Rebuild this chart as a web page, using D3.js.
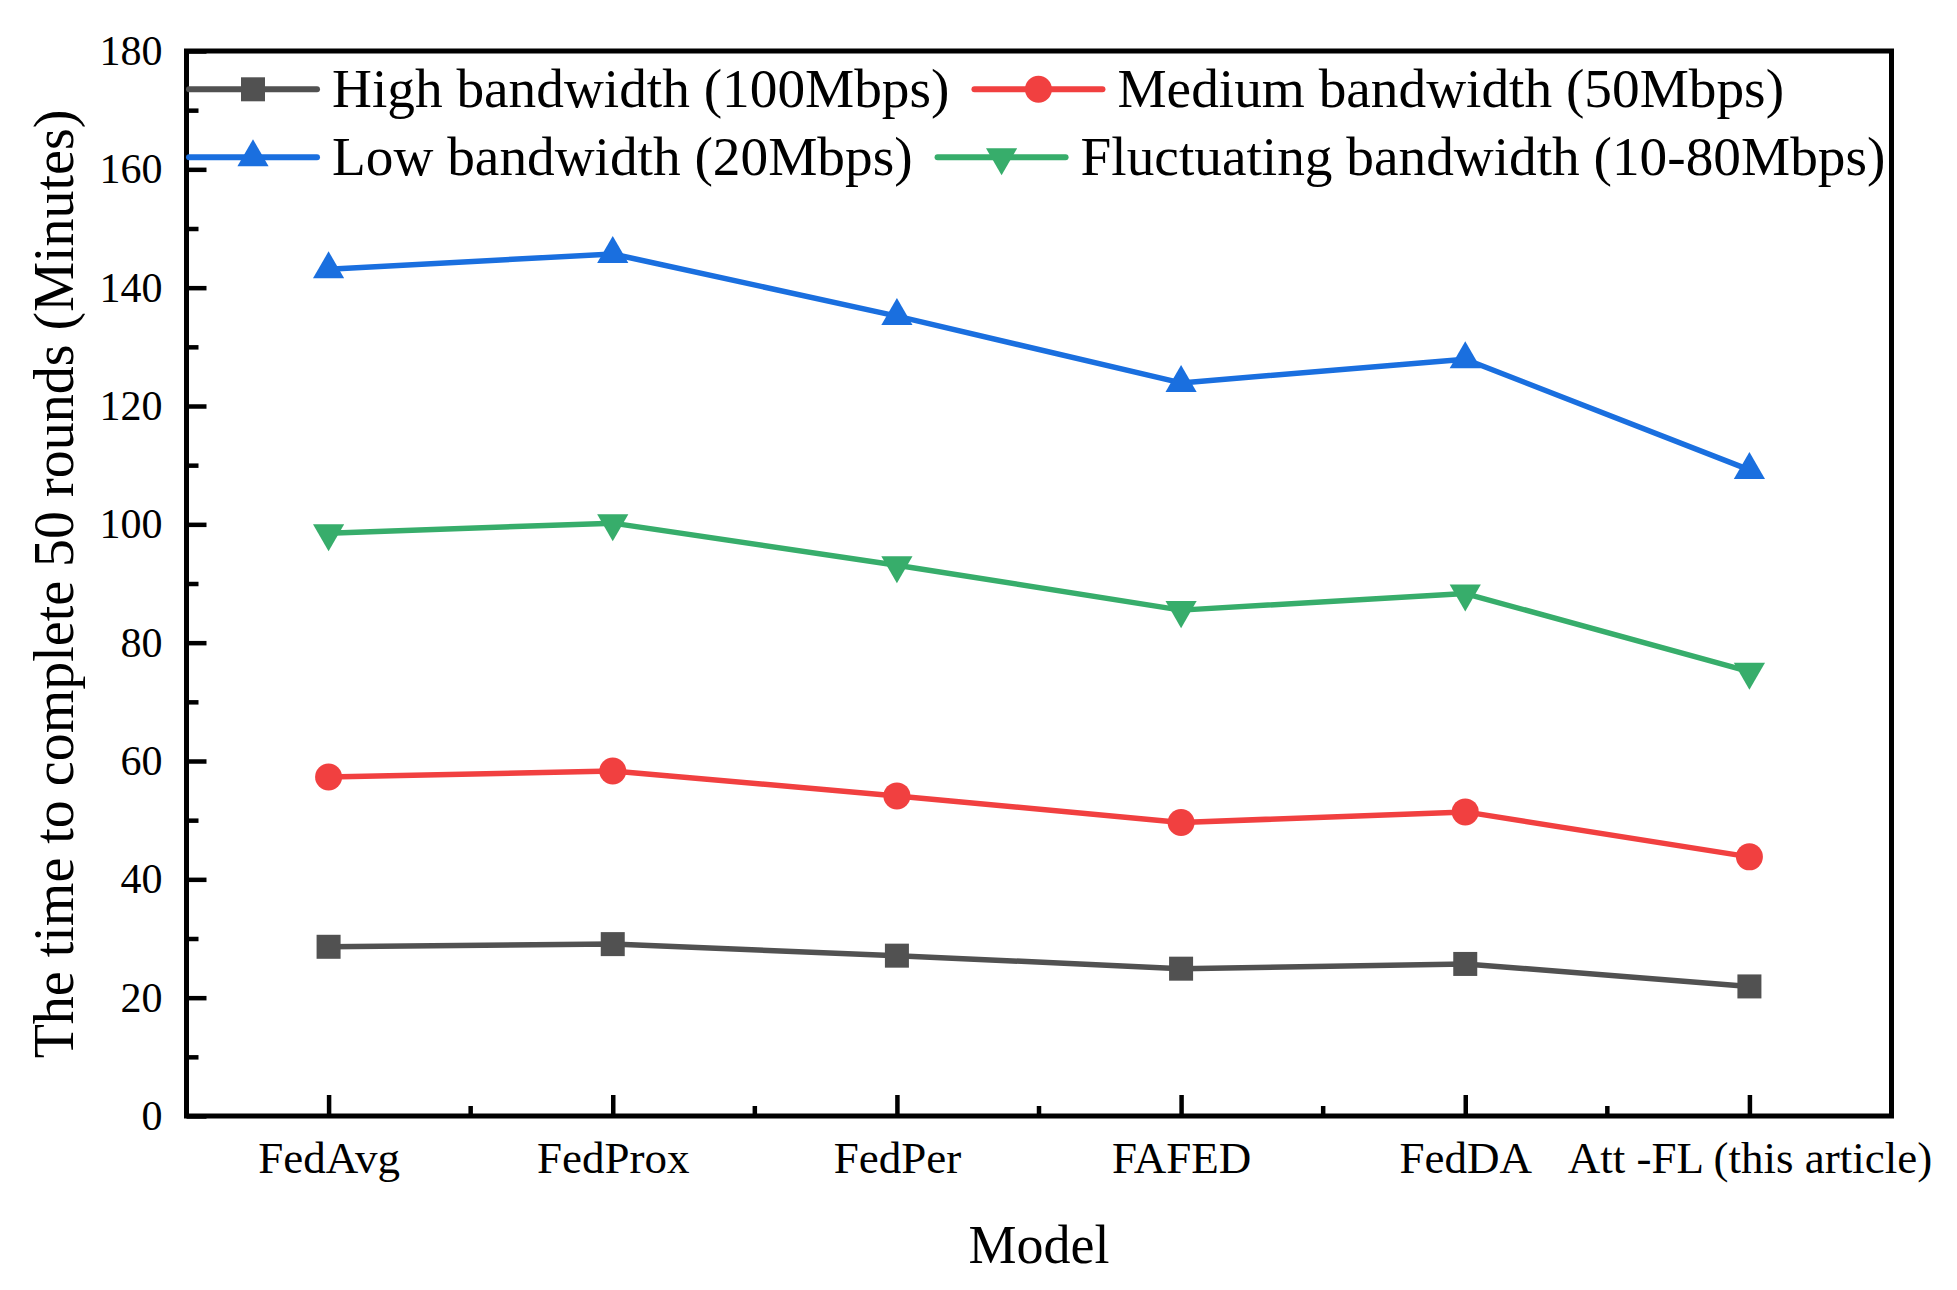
<!DOCTYPE html>
<html>
<head>
<meta charset="utf-8">
<script src="https://cdn.jsdelivr.net/npm/d3@7"></script>
<style>
	body { margin: 0; background: #fff; }
	text { font-family: "Liberation Serif", "Times New Roman", serif; fill: #000; }
</style>
</head>
<body>
<div id="chart"></div>
<script>
// data (minutes to finish 50 rounds)
var models = ["FedAvg", "FedProx", "FedPer", "FAFED", "FedDA", "Att -FL (this article)"];
var high_bw = [28.6, 29.05, 27.1, 24.9, 25.7, 21.9];
var medium_bw = [57.3, 58.3, 54.1, 49.6, 51.4, 43.8];
var low_bw = [143.1, 145.7, 135.2, 123.9, 127.9, 109.2];
var fluct_bw = [98.5, 100.2, 93.1, 85.5, 88.3, 75.1];
var series_names = ["High bandwidth (100Mbps)", "Medium bandwidth (50Mbps)", "Low bandwidth (20Mbps)", "Fluctuating bandwidth (10-80Mbps)"];
var y_ticks = [0, 20, 40, 60, 80, 100, 120, 140, 160, 180];
var y_minor = [10, 30, 50, 70, 90, 110, 130, 150, 170];

var w = 1957, h = 1290;
var plot = {left: 186.5, right: 1891.5, top: 51, bottom: 1116};

var series = [
	{name: series_names[0], values: high_bw, color: "#515151", shape: "square"},
	{name: series_names[1], values: medium_bw, color: "#F14040", shape: "circle"},
	{name: series_names[2], values: low_bw, color: "#1A6FDF", shape: "up"},
	{name: series_names[3], values: fluct_bw, color: "#37AD6B", shape: "down"}
];

var svg = d3.select("#chart")
	.append("svg")
	.attr("width", w)
	.attr("height", h);

var x = d3.scalePoint()
	.domain(models)
	.range([plot.left, plot.right])
	.padding(0.5);

var y = d3.scaleLinear()
	.domain([0, 180])
	.range([plot.bottom, plot.top]);

// axes - ticks point inward like Origin does
var yAxis = svg.append("g")
	.attr("transform", "translate(" + plot.left + ",0)")
	.call(d3.axisLeft(y).tickValues(y_ticks).tickSizeInner(-20).tickSizeOuter(0).tickPadding(24));
yAxis.select(".domain").remove();
yAxis.selectAll("line").attr("stroke", "#000").attr("stroke-width", 4.5);
yAxis.selectAll("text").attr("font-size", "42px").attr("font-family", "Liberation Serif");

var yMinor = svg.append("g")
	.attr("transform", "translate(" + plot.left + ",0)")
	.call(d3.axisLeft(y).tickValues(y_minor).tickSizeInner(-12).tickSizeOuter(0).tickFormat(""));
yMinor.select(".domain").remove();
yMinor.selectAll("line").attr("stroke", "#000").attr("stroke-width", 4.5);

var xAxis = svg.append("g")
	.attr("transform", "translate(0," + plot.bottom + ")")
	.call(d3.axisBottom(x).tickSizeInner(-21).tickSizeOuter(0).tickPadding(25));
xAxis.select(".domain").remove();
xAxis.selectAll("line").attr("stroke", "#000").attr("stroke-width", 4.5);
xAxis.selectAll("text").attr("font-size", "45px").attr("font-family", "Liberation Serif");

// minor x ticks half way between the models
var step = x.step();
svg.append("g")
	.selectAll("line")
	.data(models.slice(1))
	.enter()
	.append("line")
	.attr("x1", function(d){ return x(d) - step / 2; })
	.attr("x2", function(d){ return x(d) - step / 2; })
	.attr("y1", plot.bottom)
	.attr("y2", plot.bottom - 10)
	.attr("stroke", "#000")
	.attr("stroke-width", 4.5);

// frame
svg.append("rect")
	.attr("x", plot.left)
	.attr("y", plot.top)
	.attr("width", plot.right - plot.left)
	.attr("height", plot.bottom - plot.top)
	.attr("fill", "none")
	.attr("stroke", "#000")
	.attr("stroke-width", 5);

// axis titles
svg.append("text")
	.text("Model")
	.attr("x", (plot.left + plot.right) / 2)
	.attr("y", 1263)
	.attr("text-anchor", "middle")
	.attr("font-size", "54px");

svg.append("text")
	.text("The time to complete 50 rounds (Minutes)")
	.attr("transform", "translate(73," + ((plot.top + plot.bottom) / 2 + 0.5) + ") rotate(-90)")
	.attr("text-anchor", "middle")
	.attr("font-size", "56px");

function marker(sel, shape, color) {
	if (shape === "square") {
		sel.append("rect")
			.attr("x", -12).attr("y", -12)
			.attr("width", 24).attr("height", 24)
			.attr("fill", color);
	} else if (shape === "circle") {
		sel.append("circle")
			.attr("r", 13.5)
			.attr("fill", color);
	} else {
		sel.append("path")
			.attr("d", d3.symbol().type(d3.symbolTriangle).size(421)())
			.attr("transform", shape === "down" ? "rotate(180)" : null)
			.attr("fill", color);
	}
}

var line = d3.line()
	.x(function(d, i){ return x(models[i]); })
	.y(function(d){ return y(d); });

series.forEach(function(s){
	var g = svg.append("g");
	g.append("path")
		.datum(s.values)
		.attr("d", line)
		.attr("fill", "none")
		.attr("stroke", s.color)
		.attr("stroke-width", 5.5)
		.attr("stroke-linejoin", "round");
	g.selectAll("g.pt")
		.data(s.values)
		.enter()
		.append("g")
		.attr("class", "pt")
		.attr("transform", function(d, i){ return "translate(" + x(models[i]) + "," + y(d) + ")"; })
		.each(function(){ marker(d3.select(this), s.shape, s.color); });
});

// legend, two rows, items laid out from their text widths
var legend_rows = [[series[0], series[1]], [series[2], series[3]]];
var row_y = [89.3, 157.3];
legend_rows.forEach(function(row, r){
	var lx = 189;
	row.forEach(function(s){
		var g = svg.append("g").attr("transform", "translate(" + lx + "," + row_y[r] + ")");
		g.append("line")
			.attr("x1", 0).attr("x2", 128)
			.attr("y1", 0).attr("y2", 0)
			.attr("stroke", s.color)
			.attr("stroke-width", 6)
			.attr("stroke-linecap", "round");
		var m = g.append("g").attr("transform", "translate(64,0)");
		marker(m, s.shape, s.color);
		var t = g.append("text")
			.text(s.name)
			.attr("x", 143)
			.attr("y", 18)
			.attr("font-size", "55.3px");
		lx += 143 + t.node().getComputedTextLength() + 25;
	});
});
</script>
</body>
</html>
